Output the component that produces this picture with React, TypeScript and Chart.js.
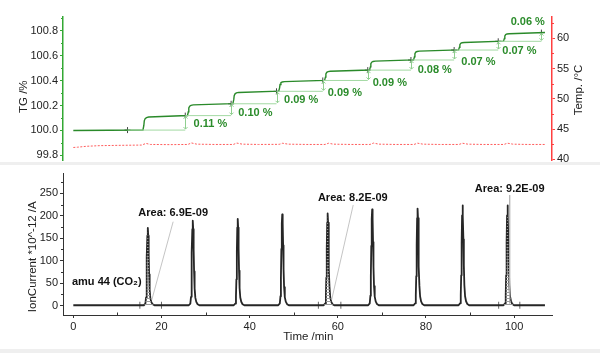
import React, { useEffect, useRef } from "react";
import { Chart, registerables } from "chart.js";
Chart.register(...registerables);

const FONT = "'Liberation Sans', Arial, Helvetica, sans-serif";

// ---------- shared time axis ----------
const timeMin = -2.34;
const timeMax = 108.6;
const timeTicks = [0, 20, 40, 60, 80, 100];
const timeMinorTicks = [10, 30, 50, 70, 90];

// ---------- TG curve (time /min, TG /%) ----------
const tgTime = [
  0, 8, 15.8, 16.0, 16.1, 16.3, 16.6, 17.1,
  25.9, 26.1, 26.2, 26.4, 26.7, 27.2,
  36.2, 36.4, 36.5, 36.7, 37.0, 37.5,
  46.6, 46.8, 46.9, 47.1, 47.4, 47.9,
  57.0, 57.2, 57.3, 57.5, 57.8, 58.3,
  67.2, 67.4, 67.5, 67.7, 68.0, 68.5,
  77.2, 77.4, 77.5, 77.7, 78.0, 78.5,
  87.4, 87.6, 87.7, 87.9, 88.2, 88.7,
  97.6, 97.8, 97.9, 98.1, 98.4, 98.9,
  107.0,
];
const tgValue = [
  100.0, 100.002, 100.004, 100.04, 100.077, 100.095, 100.103, 100.108,
  100.12, 100.15, 100.18, 100.195, 100.201, 100.205,
  100.215, 100.247, 100.278, 100.294, 100.301, 100.305,
  100.315, 100.342, 100.369, 100.383, 100.389, 100.392,
  100.402, 100.428, 100.453, 100.466, 100.472, 100.475,
  100.485, 100.51, 100.535, 100.547, 100.553, 100.556,
  100.566, 100.591, 100.615, 100.628, 100.633, 100.636,
  100.646, 100.667, 100.688, 100.699, 100.704, 100.706,
  100.716, 100.737, 100.758, 100.769, 100.774, 100.776,
  100.786,
];
const tgTicks = [99.8, 100.0, 100.2, 100.4, 100.6, 100.8];
const tgMinorTicks = [99.9, 100.1, 100.3, 100.5, 100.7, 100.9];
const tgMin = 99.763;
const tgMax = 100.91;

// step evaluation markers
const markerTime = [12.3, 25.4, 35.8, 46.1, 56.6, 66.8, 76.6, 86.4, 96.4, 106.2];
const markerTG = [100.003, 100.119, 100.214, 100.314, 100.401, 100.484, 100.565, 100.645, 100.715, 100.785];
const stepLabels = ["0.11 %", "0.10 %", "0.09 %", "0.09 %", "0.09 %", "0.08 %", "0.07 %", "0.07 %", "0.06 %"];
const stepLabelTime = [31.1, 41.3, 51.7, 61.6, 71.8, 82.0, 91.9, 101.2, 103.1];
const stepLabelTG = [100.052, 100.143, 100.245, 100.303, 100.383, 100.485, 100.552, 100.64, 100.868];

// ---------- temperature (time /min, °C) ----------
const tempTime = [
  0, 1, 3, 6, 10, 15.5, 16.5, 17.5, 22, 26.0, 26.8, 28, 32, 36.3, 37.1, 38.3, 42,
  46.7, 47.5, 48.7, 53, 57.1, 57.9, 59, 63, 67.3, 68.1, 69.3, 73, 77.3, 78.1, 79.3,
  83, 87.5, 88.3, 89.5, 93, 97.7, 98.5, 99.7, 103, 107,
];
const tempValue = [
  41.95, 42.0, 42.15, 42.25, 42.3, 42.35, 42.62, 42.45, 42.42, 42.45, 42.7, 42.5, 42.45, 42.45, 42.68, 42.5, 42.45,
  42.47, 42.65, 42.5, 42.45, 42.45, 42.65, 42.5, 42.45, 42.45, 42.68, 42.5, 42.45, 42.45, 42.66, 42.5,
  42.45, 42.45, 42.65, 42.5, 42.45, 42.45, 42.66, 42.5, 42.45, 42.45,
];
const tempTicks = [40, 45, 50, 55, 60];
const tempMinorTicks = [42.5, 47.5, 52.5, 57.5, 62.5];
const tempMin = 39.88;
const tempMax = 63.52;

// ---------- ion current amu 44 ----------
const ionBaseline = 1;
const ionStart = 0;
const ionEnd = 107;
const peakTime = [16.9, 27.1, 37.3, 47.4, 57.7, 67.8, 78.1, 88.3, 98.5];
const peakHeight = [172, 188, 192, 202, 204, 213, 215, 222, 222];
const peakShapeDt = [-0.9, -0.55, -0.4, -0.3, -0.2, -0.1, 0, 0.1, 0.2, 0.3, 0.42, 0.58, 0.8, 1.1, 1.5];
const peakShapeFrac = [0, 0.02, 0.1, 0.3, 0.62, 0.9, 1, 0.9, 0.66, 0.4, 0.2, 0.09, 0.04, 0.012, 0];
const ionTicks = [0, 50, 100, 150, 200, 250];
const ionMinorTicks = [25, 75, 125, 175, 225, 275];
const ionMin = -20.7;
const ionMax = 295.1;

const areaStart = [15.1, 55.6, 96.5];
const areaEnd = [20.0, 60.7, 101.3];
const areaLabels = ["Area: 6.9E-09", "Area: 8.2E-09", "Area: 9.2E-09"];
const areaLabelTime = [22.65, 63.4, 99.0];
const areaLabelIon = [205.5, 238.9, 259];
const leaderFromTime = [22.65, 63.5, 99.0];
const leaderFromIon = [186.8, 224, 246];
const leaderToTime = [17.8, 58.6, 99.0];
const leaderToIon = [12.7, 12.7, 5];
const gasLabel = "amu 44 (CO₂)";
const gasLabelTime = 7.6;
const gasLabelIon = 53.4;

// ---------- helpers ----------
const setTicks = (vals: number[]) => (scale: any) => {
  scale.ticks = vals.map((v) => ({ value: v }));
};
const fixW = (w: number) => (scale: any) => {
  scale.width = w;
};
const fixH = (h: number) => (scale: any) => {
  scale.height = h;
};

function drawRotated(ctx: CanvasRenderingContext2D, text: string, x: number, y: number, font: string, color: string) {
  ctx.save();
  ctx.translate(x, y);
  ctx.rotate(-Math.PI / 2);
  ctx.font = font;
  ctx.fillStyle = color;
  ctx.textAlign = "center";
  ctx.textBaseline = "middle";
  ctx.fillText(text, 0, 0);
  ctx.restore();
}

const GREEN_AXIS = "#33a833";
const GREEN_LINE = "#2a8a2a";
const GREEN_LIGHT = "#a3d9a3";
const GREEN_TEXT = "#2b8c2b";
const RED_AXIS = "#ff4040";

export default function App() {
  const topRef = useRef<HTMLCanvasElement>(null);
  const botRef = useRef<HTMLCanvasElement>(null);

  useEffect(() => {
    // ---------------- top chart ----------------
    const tgData = tgTime.map((t, i) => ({ x: t, y: tgValue[i] }));
    const tempData = tempTime.map((t, i) => ({ x: t, y: tempValue[i] }));
    const refLines: any[] = [];
    for (let i = 1; i < markerTime.length; i++) {
      refLines.push({ x: markerTime[i - 1], y: markerTG[i - 1] });
      refLines.push({ x: markerTime[i], y: markerTG[i - 1] });
      refLines.push({ x: markerTime[i], y: null });
    }
    const markers = markerTime.map((t, i) => ({ x: t, y: markerTG[i] }));

    const topPlugin = {
      id: "topDecor",
      afterDatasetsDraw(chart: any) {
        const ctx: CanvasRenderingContext2D = chart.ctx;
        const xs = chart.scales.x;
        const ys = chart.scales.yTG;
        const yt = chart.scales.yT;
        const area = chart.chartArea;
        ctx.save();
        ctx.lineWidth = 1;
        ctx.strokeStyle = GREEN_AXIS;
        tgMinorTicks.forEach((v) => {
          if (v < tgMin || v > tgMax) return;
          const y = Math.round(ys.getPixelForValue(v)) + 0.5;
          ctx.beginPath();
          ctx.moveTo(area.left - 2, y);
          ctx.lineTo(area.left, y);
          ctx.stroke();
        });
        ctx.strokeStyle = RED_AXIS;
        tempMinorTicks.forEach((v) => {
          if (v < tempMin || v > tempMax) return;
          const y = Math.round(yt.getPixelForValue(v)) + 0.5;
          ctx.beginPath();
          ctx.moveTo(area.right, y);
          ctx.lineTo(area.right + 2, y);
          ctx.stroke();
        });
        // arrows
        ctx.strokeStyle = "#8fcf8f";
        ctx.lineWidth = 1;
        for (let i = 1; i < markerTime.length; i++) {
          const x = Math.round(xs.getPixelForValue(markerTime[i])) + 0.5;
          const y1 = ys.getPixelForValue(markerTG[i - 1]);
          const y2 = ys.getPixelForValue(markerTG[i]);
          ctx.beginPath();
          ctx.moveTo(x, y1 - 1);
          ctx.lineTo(x, y2 + 1);
          ctx.stroke();
          ctx.beginPath();
          ctx.moveTo(x - 2, y2 + 3);
          ctx.lineTo(x, y2 + 1);
          ctx.lineTo(x + 2, y2 + 3);
          ctx.moveTo(x - 2, y1 - 3);
          ctx.lineTo(x, y1 - 1);
          ctx.lineTo(x + 2, y1 - 3);
          ctx.stroke();
        }
        ctx.font = `bold 11px ${FONT}`;
        ctx.fillStyle = GREEN_TEXT;
        ctx.textAlign = "center";
        ctx.textBaseline = "middle";
        stepLabels.forEach((s, i) => {
          ctx.fillText(s, xs.getPixelForValue(stepLabelTime[i]), ys.getPixelForValue(stepLabelTG[i]));
        });
        ctx.restore();
        drawRotated(ctx, "TG /%", 24, 96.7, `11.5px ${FONT}`, "#222");
        drawRotated(ctx, "Temp. /°C", 579, 90, `11.5px ${FONT}`, "#222");
      },
    };

    const top = new Chart(topRef.current!, {
      type: "line",
      data: {
        datasets: [
          {
            label: "Temp",
            data: tempData,
            yAxisID: "yT",
            borderColor: "#ff5c5c",
            borderWidth: 1,
            borderDash: [2, 1.5],
            pointRadius: 0,
            tension: 0,
          },
          {
            label: "ref",
            data: refLines,
            yAxisID: "yTG",
            borderColor: GREEN_LIGHT,
            borderWidth: 1,
            pointRadius: 0,
            spanGaps: false,
          },
          {
            label: "TG",
            data: tgData,
            yAxisID: "yTG",
            borderColor: GREEN_LINE,
            borderWidth: 1.4,
            pointRadius: 0,
            tension: 0,
          },
          {
            label: "markers",
            data: markers,
            yAxisID: "yTG",
            showLine: false,
            pointStyle: "cross",
            pointRadius: 3,
            borderColor: "#444",
            borderWidth: 1,
          },
        ] as any,
      },
      options: {
        animation: false,
        responsive: false,
        devicePixelRatio: 1,
        layout: { padding: { top: 17, bottom: 12, left: 0, right: 0 } },
        plugins: { legend: { display: false }, tooltip: { enabled: false } },
        scales: {
          x: { type: "linear", min: timeMin, max: timeMax, display: false },
          yTG: {
            type: "linear",
            position: "left",
            min: tgMin,
            max: tgMax,
            afterBuildTicks: setTicks(tgTicks),
            afterFit: fixW(63),
            grid: { drawOnChartArea: false, tickLength: 3, color: GREEN_AXIS },
            border: { color: GREEN_AXIS, width: 1.5 },
            ticks: { font: { family: FONT, size: 11 }, color: "#222", padding: 2, callback: (v: any) => Number(v).toFixed(1) },
          },
          yT: {
            type: "linear",
            position: "right",
            min: tempMin,
            max: tempMax,
            afterBuildTicks: setTicks(tempTicks),
            afterFit: fixW(48),
            grid: { drawOnChartArea: false, tickLength: 3, color: RED_AXIS },
            border: { color: RED_AXIS, width: 1.5, dash: [2, 1] },
            ticks: { font: { family: FONT, size: 11 }, color: "#222", padding: 2, callback: (v: any) => String(v) },
          },
        } as any,
      },
      plugins: [topPlugin],
    });

    // ---------------- bottom chart ----------------
    const ionData: { x: number; y: number }[] = [{ x: ionStart, y: ionBaseline }];
    peakTime.forEach((p, k) => {
      peakShapeDt.forEach((dt, j) => {
        ionData.push({ x: p + dt, y: ionBaseline + peakShapeFrac[j] * peakHeight[k] });
      });
    });
    ionData.push({ x: ionEnd, y: ionBaseline });

    const pc = document.createElement("canvas");
    pc.width = 4;
    pc.height = 3;
    const pctx = pc.getContext("2d")!;
    pctx.fillStyle = "#9a9a9a";
    pctx.fillRect(0, 0, 4, 1);
    const pattern = pctx.createPattern(pc, "repeat");

    const hatchSets = areaStart.map((a, k) => {
      const pts = [{ x: a, y: ionBaseline }];
      ionData.forEach((p) => {
        if (p.x > a && p.x < areaEnd[k]) pts.push(p);
      });
      pts.push({ x: areaEnd[k], y: ionBaseline });
      return {
        label: "hatch" + k,
        data: pts,
        borderWidth: 0,
        borderColor: "rgba(0,0,0,0)",
        backgroundColor: pattern,
        fill: "origin",
        pointRadius: 0,
      };
    });

    const leaderSets = leaderFromTime.map((t, k) => ({
      label: "leader" + k,
      data: [
        { x: t, y: leaderFromIon[k] },
        { x: leaderToTime[k], y: leaderToIon[k] },
      ],
      borderColor: "#b5b5b5",
      borderWidth: 0.8,
      pointRadius: 0,
    }));

    const boundPts: { x: number; y: number }[] = [];
    areaStart.forEach((a, k) => {
      boundPts.push({ x: a, y: ionBaseline });
      boundPts.push({ x: areaEnd[k], y: ionBaseline });
    });

    const botPlugin = {
      id: "botDecor",
      afterDatasetsDraw(chart: any) {
        const ctx: CanvasRenderingContext2D = chart.ctx;
        const xs = chart.scales.x;
        const ys = chart.scales.y;
        const area = chart.chartArea;
        ctx.save();
        ctx.strokeStyle = "#333";
        ctx.lineWidth = 1;
        ionMinorTicks.forEach((v) => {
          if (v < ionMin || v > ionMax) return;
          const y = Math.round(ys.getPixelForValue(v)) + 0.5;
          ctx.beginPath();
          ctx.moveTo(area.left - 2, y);
          ctx.lineTo(area.left, y);
          ctx.stroke();
        });
        timeMinorTicks.forEach((v) => {
          const x = Math.round(xs.getPixelForValue(v)) + 0.5;
          ctx.beginPath();
          ctx.moveTo(x, area.bottom);
          ctx.lineTo(x, area.bottom - 2.5);
          ctx.stroke();
        });
        ctx.font = `bold 11px ${FONT}`;
        ctx.fillStyle = "#111";
        ctx.textAlign = "center";
        ctx.textBaseline = "middle";
        areaLabels.forEach((s, i) => {
          ctx.fillText(s, xs.getPixelForValue(areaLabelTime[i]), ys.getPixelForValue(areaLabelIon[i]));
        });
        ctx.fillText(gasLabel, xs.getPixelForValue(gasLabelTime), ys.getPixelForValue(gasLabelIon));
        ctx.font = `11.5px ${FONT}`;
        ctx.fillStyle = "#222";
        ctx.fillText("Time /min", 308.3, 174);
        ctx.restore();
        drawRotated(ctx, "IonCurrent *10^-12 /A", 33, 93.7, `11.5px ${FONT}`, "#222");
      },
    };

    const bot = new Chart(botRef.current!, {
      type: "line",
      data: {
        datasets: [
          ...hatchSets,
          ...leaderSets,
          {
            label: "amu44",
            data: ionData,
            borderColor: "#262626",
            borderWidth: 1.8,
            pointRadius: 0,
            tension: 0,
            borderJoinStyle: "round",
          },
          {
            label: "bounds",
            data: boundPts,
            showLine: false,
            pointStyle: "line",
            rotation: 90,
            pointRadius: 3.5,
            borderColor: "#666",
            borderWidth: 1,
          },
        ] as any,
      },
      options: {
        animation: false,
        responsive: false,
        devicePixelRatio: 1,
        layout: { padding: { top: 10, bottom: 0, left: 0, right: 48 } },
        plugins: { legend: { display: false }, tooltip: { enabled: false } },
        scales: {
          x: {
            type: "linear",
            position: "bottom",
            min: timeMin,
            max: timeMax,
            afterBuildTicks: setTicks(timeTicks),
            afterFit: fixH(38),
            grid: { drawOnChartArea: false, tickLength: 3, color: "#333" },
            border: { color: "#333", width: 1 },
            ticks: { font: { family: FONT, size: 11 }, color: "#222", padding: 2, maxRotation: 0, autoSkip: false, callback: (v: any) => String(v) },
          },
          y: {
            type: "linear",
            position: "left",
            min: ionMin,
            max: ionMax,
            afterBuildTicks: setTicks(ionTicks),
            afterFit: fixW(63),
            grid: { drawOnChartArea: false, tickLength: 3, color: "#333" },
            border: { color: "#333", width: 1 },
            ticks: { font: { family: FONT, size: 11 }, color: "#222", padding: 2, callback: (v: any) => String(v) },
          },
        } as any,
      },
      plugins: [botPlugin],
    });

    return () => {
      top.destroy();
      bot.destroy();
    };
  }, []);

  return (
    <div style={{ position: "fixed", left: 0, top: 0, width: 600, height: 353, background: "#fff", overflow: "hidden" }}>
      <div style={{ position: "absolute", left: 0, top: 162, width: 600, height: 3, background: "#efefef" }} />
      <div style={{ position: "absolute", left: 0, top: 349, width: 600, height: 4, background: "#efefef" }} />
      <canvas ref={topRef} width={600} height={172} style={{ position: "absolute", left: 0, top: 0 }} />
      <canvas ref={botRef} width={600} height={190} style={{ position: "absolute", left: 0, top: 163 }} />
    </div>
  );
}
